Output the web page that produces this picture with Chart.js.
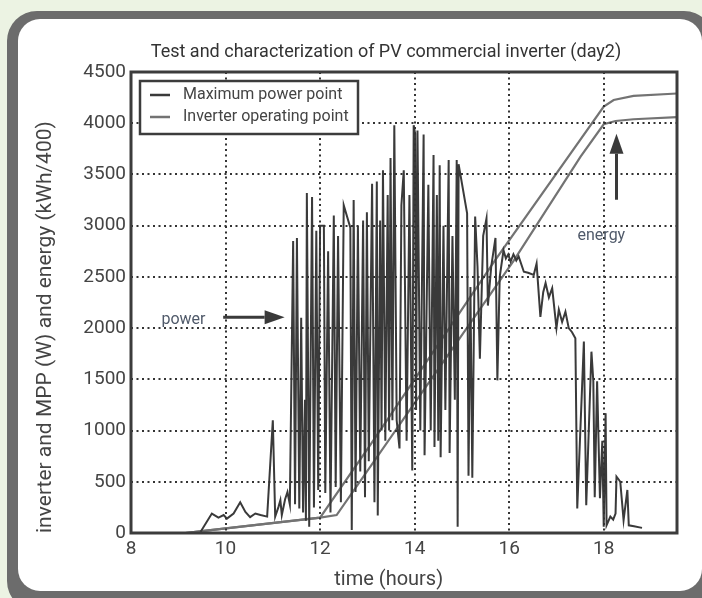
<!DOCTYPE html>
<html>
<head>
<meta charset="utf-8">
<script src="https://cdn.jsdelivr.net/npm/chart.js@4/dist/chart.umd.min.js"></script>
<style>
  html, body { margin: 0; padding: 0; background: #ecf3e3; }
  canvas { display: block; }
</style>
</head>
<body>
<canvas id="chart" width="702" height="598"></canvas>
<script>
// Power at the maximum power point (W), sampled over the day
const mppTimes = [
  9.47, 9.71, 9.85, 9.96, 10.03, 10.17, 10.31, 10.42, 10.52, 10.63, 10.74, 10.88,
  11.00, 11.05, 11.12, 11.16, 11.19, 11.26, 11.31, 11.36, 11.43, 11.47, 11.51, 11.56,
  11.60, 11.64, 11.68, 11.70, 11.72, 11.77, 11.83, 11.87, 11.92, 11.96, 12.00, 12.08,
  12.11, 12.17, 12.22, 12.29, 12.33, 12.38, 12.44, 12.50, 12.64, 12.67, 12.71, 12.75,
  12.80, 12.85, 12.91, 12.95, 12.99, 13.03, 13.10, 13.15, 13.20, 13.22, 13.27, 13.30,
  13.33, 13.38, 13.43, 13.46, 13.49, 13.53, 13.57, 13.62, 13.68, 13.72, 13.77, 13.83,
  13.89, 13.95, 13.98, 14.01, 14.03, 14.06, 14.12, 14.19, 14.21, 14.29, 14.34, 14.40,
  14.42, 14.47, 14.50, 14.53, 14.55, 14.61, 14.65, 14.72, 14.74, 14.80, 14.85, 14.89,
  14.91, 14.93, 15.11, 15.14, 15.18, 15.22, 15.28, 15.33, 15.38, 15.45, 15.52, 15.55,
  15.62, 15.71, 15.75, 15.80, 15.88, 15.93, 15.98, 16.03, 16.09, 16.15, 16.20, 16.31,
  16.40, 16.52, 16.58, 16.66, 16.72, 16.77, 16.84, 16.91, 17.00, 17.05, 17.12, 17.19,
  17.26, 17.33, 17.40, 17.44, 17.58, 17.63, 17.74, 17.78, 17.81, 17.86, 17.92, 17.97,
  18.00, 18.04, 18.06, 18.14, 18.20, 18.25, 18.27, 18.32, 18.35, 18.42, 18.50, 18.53,
  18.64, 18.81
];
const mppPower = [
  10, 190, 150, 175, 140, 190, 300, 205, 155, 190, 175, 160,
  1100, 160, 255, 320, 175, 330, 400, 280, 2850, 280, 2880, 240,
  2100, 200, 1300, 120, 3320, 60, 3280, 250, 2950, 420, 3000, 3000,
  390, 2750, 200, 3100, 450, 2900, 300, 3200, 2980, 30, 3250, 400,
  3000, 600, 3050, 350, 3130, 700, 3410, 300, 3430, 170, 3050, 1000,
  3540, 900, 3300, 1000, 3660, 1100, 3980, 1100, 825, 3200, 3540, 900,
  3300, 610, 3980, 3900, 1200, 3930, 1000, 3890, 760, 3400, 1000, 3690,
  840, 3300, 900, 3590, 740, 3000, 1200, 3640, 780, 2900, 1300, 3640,
  60, 3600, 3120, 560, 2400, 540, 3090, 2600, 1700, 2900, 3070, 2220,
  2600, 2880, 1490, 2500, 2760, 2680, 2720, 2650, 2720, 2660, 2700, 2550,
  2540, 2520, 2630, 2110, 2350, 2440, 2300, 2390, 2000, 2180, 2060, 2160,
  2000, 1960, 1900, 240, 1870, 270, 1770, 1480, 350, 1480, 340, 900,
  60, 1170, 75, 160, 130, 190, 550, 520, 500, 125, 420, 75,
  65, 50
];

// Cumulative energy (kWh/400)
const mppEnergyTimes = [9.15, 9.45, 12.0, 13.07, 15.70, 18.0, 18.21, 18.63, 19.55];
const mppEnergy      = [0, 15, 150, 866, 2662, 4162, 4227, 4267, 4290];
const invEnergyTimes = [9.15, 9.45, 12.0, 12.35, 16.10, 17.51, 18.0, 18.25, 18.63, 19.55];
const invEnergy      = [0, 15, 150, 175, 2662, 3673, 3990, 4022, 4039, 4060];

const xTicks = [8, 10, 12, 14, 16, 18];
const yTicks = [0, 500, 1000, 1500, 2000, 2500, 3000, 3500, 4000, 4500];

const legendLabels = ['Maximum power point', 'Inverter operating point'];

// text + arrows placed in data units
const notes = [
  { text: 'power', x: 9.11, y: 2080, arrow: [9.95, 2107, 11.25, 2107] },
  { text: 'energy', x: 17.95, y: 2900, arrow: [18.27, 3253, 18.27, 3898] }
];

const FONT = 'Roboto';
const TEXT = '#444';
const DARK = '#3a3a3a';
const GRAY = '#737373';

function pts(xs, ys) {
  return xs.map((x, i) => ({ x: x, y: ys[i] }));
}

const framePlugin = {
  id: 'frame',
  beforeDraw(chart) {
    const ctx = chart.ctx;
    ctx.save();
    ctx.fillStyle = '#ecf3e3';
    ctx.fillRect(0, 0, chart.width, chart.height);
    ctx.fillStyle = '#6c6c6c';
    ctx.beginPath();
    ctx.roundRect(7, 11, 707, 600, 30);
    ctx.fill();
    ctx.fillStyle = '#fff';
    ctx.beginPath();
    ctx.roundRect(18, 19, 684, 572, 22);
    ctx.fill();
    // chart title
    ctx.fillStyle = '#333';
    ctx.font = '18px ' + FONT;
    ctx.textAlign = 'center';
    ctx.textBaseline = 'middle';
    ctx.fillText('Test and characterization of PV commercial inverter (day2)', 386, 52);
    ctx.restore();
  },
  afterDraw(chart) {
    const ctx = chart.ctx;
    const ca = chart.chartArea;
    const xs = chart.scales.x, ys = chart.scales.y;
    ctx.save();
    // plot box
    ctx.strokeStyle = '#3c3c3c';
    ctx.lineWidth = 3;
    ctx.strokeRect(ca.left, ca.top, ca.right - ca.left, ca.bottom - ca.top);

    // legend box
    const lx = ca.left + 9, ly = ca.top + 9, lw = 218, lh = 53;
    ctx.fillStyle = '#fff';
    ctx.fillRect(lx, ly, lw, lh);
    ctx.lineWidth = 2.5;
    ctx.strokeRect(lx, ly, lw, lh);
    ctx.font = '16px ' + FONT;
    ctx.textAlign = 'left';
    ctx.textBaseline = 'middle';
    legendLabels.forEach((label, i) => {
      const yy = ly + 14 + i * 22;
      ctx.strokeStyle = chart.data.datasets[i].borderColor;
      ctx.lineWidth = 2.5;
      ctx.beginPath();
      ctx.moveTo(lx + 10, yy);
      ctx.lineTo(lx + 30, yy);
      ctx.stroke();
      ctx.fillStyle = TEXT;
      ctx.fillText(label, lx + 43, yy);
    });

    // annotations
    notes.forEach(n => {
      ctx.fillStyle = '#505a6a';
      ctx.font = '16px ' + FONT;
      ctx.textAlign = 'center';
      ctx.fillText(n.text, xs.getPixelForValue(n.x), ys.getPixelForValue(n.y));
      const x1 = xs.getPixelForValue(n.arrow[0]), y1 = ys.getPixelForValue(n.arrow[1]);
      const x2 = xs.getPixelForValue(n.arrow[2]), y2 = ys.getPixelForValue(n.arrow[3]);
      const ang = Math.atan2(y2 - y1, x2 - x1);
      const hl = 20, hw = 7;
      const bx = x2 - hl * Math.cos(ang), by = y2 - hl * Math.sin(ang);
      ctx.strokeStyle = '#3a3a3a';
      ctx.fillStyle = '#3a3a3a';
      ctx.lineWidth = 3;
      ctx.beginPath();
      ctx.moveTo(x1, y1);
      ctx.lineTo(bx, by);
      ctx.stroke();
      ctx.beginPath();
      ctx.moveTo(x2, y2);
      ctx.lineTo(bx + hw * Math.sin(ang), by - hw * Math.cos(ang));
      ctx.lineTo(bx - hw * Math.sin(ang), by + hw * Math.cos(ang));
      ctx.closePath();
      ctx.fill();
    });
    ctx.restore();
  }
};

new Chart(document.getElementById('chart'), {
  type: 'line',
  data: {
    datasets: [
      {
        label: legendLabels[0],
        data: pts(mppTimes, mppPower),
        borderColor: DARK,
        borderWidth: 2
      },
      {
        label: legendLabels[1],
        data: pts(invEnergyTimes, invEnergy),
        borderColor: GRAY,
        borderWidth: 2.2
      },
      {
        label: 'MPP energy',
        data: pts(mppEnergyTimes, mppEnergy),
        borderColor: GRAY,
        borderWidth: 2.2
      }
    ]
  },
  options: {
    responsive: false,
    animation: false,
    layout: { padding: { top: 72, right: 25, left: 0, bottom: 0 } },
    elements: {
      point: { radius: 0 },
      line: { tension: 0, fill: false }
    },
    plugins: {
      legend: { display: false },
      title: { display: false },
      tooltip: { enabled: false }
    },
    scales: {
      x: {
        type: 'linear',
        min: 8,
        max: 19.55,
        afterFit: s => { s.height = 65; },
        afterBuildTicks: s => { s.ticks = xTicks.map(v => ({ value: v })); },
        ticks: {
          color: TEXT, font: { family: FONT, size: 19 }, padding: 5,
          callback: v => String(v)
        },
        grid: { color: '#333', lineWidth: 2, drawTicks: false, z: 1 },
        border: { display: false, dash: [2, 3.5] },
        title: {
          display: true,
          text: 'time (hours)\u2002\u2002\u2002',
          color: TEXT,
          font: { family: FONT, size: 20 },
          padding: { top: 0, bottom: 6 }
        }
      },
      y: {
        min: 0,
        max: 4500,
        afterFit: s => { s.width = 131; },
        afterBuildTicks: s => { s.ticks = yTicks.map(v => ({ value: v })); },
        ticks: {
          color: TEXT, font: { family: FONT, size: 19 }, padding: 5,
          callback: v => String(v)
        },
        grid: { color: '#333', lineWidth: 2, drawTicks: false, z: 1 },
        border: { display: false, dash: [2, 3.5] },
        title: {
          display: true,
          align: 'start',
          text: 'inverter and MPP (W) and energy (kWh/400)',
          color: TEXT,
          font: { family: FONT, size: 21 },
          padding: { top: 33, bottom: 0 }
        }
      }
    }
  },
  plugins: [framePlugin]
});
</script>
</body>
</html>
